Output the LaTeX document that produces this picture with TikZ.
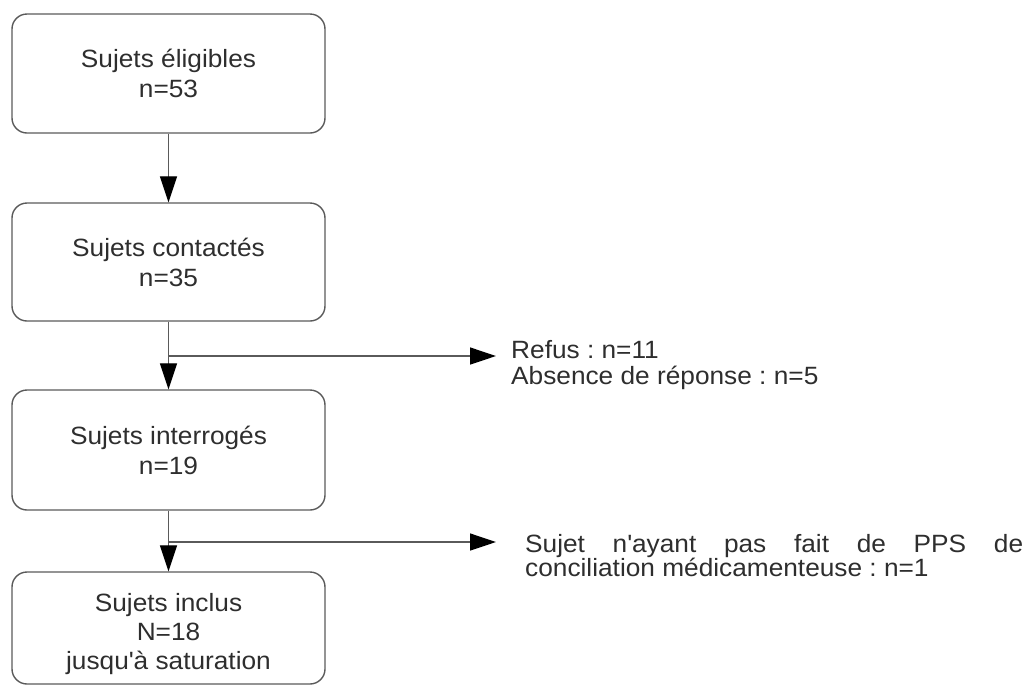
\documentclass[tikz,border=0pt]{standalone}
\usepackage{fontspec}
\setmainfont{Liberation Sans}[FakeStretch=1.05]
\usetikzlibrary{arrows.meta}
\frenchspacing
\definecolor{txt}{HTML}{2E2E2E}
\definecolor{edge}{HTML}{5A5A5A}
\tikzset{
  flowbox/.style={draw=edge, line width=1.4pt, rounded corners=15pt, minimum width=313pt,
    align=center, text=txt, inner sep=0pt, font=\fontsize{25}{30}\selectfont},
  boxtext/.style={align=center, text=txt, inner sep=0pt, font=\fontsize{25}{29}\selectfont},
  flowarrow/.style={draw=edge, line width=1.3pt, -{Triangle[length=26pt,width=17pt,fill=black,color=black]}},
  sidetext/.style={text=txt, inner sep=0pt, anchor=north west}
}
\begin{document}
\begin{tikzpicture}[x=1pt,y=-1pt]
\useasboundingbox (0,0) rectangle (1026,686);
\node[flowbox, minimum height=119pt] (b1) at (168.5,73.5) {Sujets éligibles\\n=53};
\node[flowbox, minimum height=118pt] (b2) at (168.5,262) {Sujets contactés\\n=35};
\node[flowbox, minimum height=120pt] (b3) at (168.5,450) {Sujets interrogés\\n=19};
\node[flowbox, minimum height=112pt] (b4) at (168.5,628) {};
\node[boxtext] (b4t) at (168.5,634) {Sujets inclus\\N=18\\jusqu\textquotesingle à saturation};
\node[sidetext, align=left, font=\fontsize{25}{26}\selectfont] (t1) at (511,340) {Refus : n=11\\Absence de réponse : n=5};
\node[sidetext, text width=498pt, align=justify, font=\fontsize{25}{24}\selectfont] (t2) at (525,534)
  {Sujet n\textquotesingle ayant pas fait de PPS de\linebreak conciliation médicamenteuse : n=1};
\coordinate (j1) at (169,356);
\coordinate (j2) at (169,542);
\coordinate (e1) at (496,356);
\coordinate (e2) at (496,542);
\draw[flowarrow] (b1.south) -- (b2.north);
\draw[flowarrow] (b2.south) -- (b3.north);
\draw[flowarrow] (b3.south) -- (b4.north);
\draw[flowarrow] (j1) -- (e1);
\draw[flowarrow] (j2) -- (e2);
\end{tikzpicture}
\end{document}
